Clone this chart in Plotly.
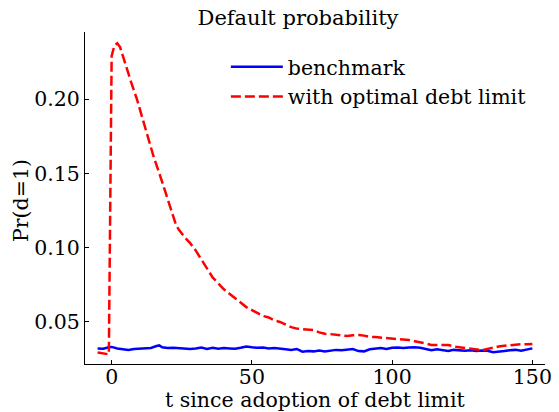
import plotly.graph_objects as go

# --- data ---
t_bench = [-5, -3, -1, 0, 2, 4, 6, 8, 10, 12, 14, 16, 17, 18, 20, 22, 24, 26, 28, 30, 32, 34, 36, 38, 40,
           42, 44, 46, 48, 50, 52, 54, 56, 58, 60, 62, 64, 66, 68, 70, 72, 74, 76, 78, 80, 82, 84, 86,
           88, 90, 92, 94, 96, 98, 100, 102, 104, 106, 108, 110, 112, 114, 116, 118, 120, 122, 124,
           126, 128, 130, 132, 134, 136, 138, 140, 142, 144, 146, 148, 150]
benchmark = [0.0322, 0.0320, 0.0330, 0.0332, 0.0322, 0.0315, 0.0312, 0.0318, 0.0320, 0.0322, 0.0325, 0.0338,
             0.0342, 0.0330, 0.0325, 0.0326, 0.0322, 0.0320, 0.0318, 0.0322, 0.0328, 0.0318, 0.0326, 0.0320,
             0.0324, 0.0322, 0.0320, 0.0326, 0.0335, 0.0330, 0.0326, 0.0328, 0.0322, 0.0325, 0.0318, 0.0316,
             0.0312, 0.0318, 0.0300, 0.0305, 0.0302, 0.0308, 0.0302, 0.0306, 0.0312, 0.0310, 0.0314, 0.0318,
             0.0304, 0.0302, 0.0316, 0.0322, 0.0324, 0.0318, 0.0326, 0.0328, 0.0324, 0.0328, 0.0330, 0.0326,
             0.0318, 0.0310, 0.0316, 0.0312, 0.0304, 0.0312, 0.0310, 0.0306, 0.0310, 0.0304, 0.0308, 0.0306,
             0.0296, 0.0298, 0.0304, 0.0310, 0.0312, 0.0306, 0.0316, 0.0322]

t_limit = [-5, -4, -3, -2, -1, 0, 1, 2, 3, 4, 5, 7, 9, 11, 13, 15, 17, 19, 21, 22, 23, 24, 26, 28, 30, 32,
           34, 36, 38, 40, 42, 44, 46, 48, 50, 52, 54, 56, 58, 60, 62, 64, 66, 68, 70, 72, 74, 76, 78, 80,
           82, 84, 86, 88, 90, 92, 94, 96, 98, 100, 102, 104, 106, 108, 110, 112, 114, 116, 118, 120, 122,
           124, 126, 128, 130, 132, 134, 136, 138, 140, 142, 144, 146, 148, 150]
optimal_limit = [0.0295, 0.0290, 0.0288, 0.0285, 0.0282, 0.2290, 0.2360, 0.2375, 0.2350, 0.2290, 0.2220,
                 0.2110, 0.2000, 0.1870, 0.1740, 0.1610, 0.1500, 0.1380, 0.1270, 0.1210, 0.1150, 0.1120,
                 0.1070, 0.1030, 0.0980, 0.0920, 0.0860, 0.0800, 0.0760, 0.0720, 0.0690, 0.0660, 0.0630,
                 0.0600, 0.0580, 0.0560, 0.0540, 0.0530, 0.0510, 0.0500, 0.0480, 0.0465, 0.0455, 0.0450,
                 0.0448, 0.0445, 0.0430, 0.0420, 0.0418, 0.0415, 0.0410, 0.0405, 0.0410, 0.0412, 0.0408,
                 0.0400, 0.0398, 0.0395, 0.0390, 0.0388, 0.0385, 0.0380, 0.0378, 0.0370, 0.0365, 0.0355,
                 0.0345, 0.0345, 0.0350, 0.0345, 0.0335, 0.0330, 0.0325, 0.0318, 0.0312, 0.0310, 0.0318,
                 0.0328, 0.0335, 0.0340, 0.0345, 0.0350, 0.0350, 0.0350, 0.0352]

x_ticks = [0, 50, 100, 150]
y_ticks = [0.05, 0.10, 0.15, 0.20]

FONT = "DejaVu Serif"
FS = 20.5

fig = go.Figure()
fig.add_trace(go.Scatter(x=t_bench, y=benchmark, mode="lines", name="benchmark",
                         line=dict(color="#0000ff", width=2.5)))
fig.add_trace(go.Scatter(x=t_limit, y=optimal_limit, mode="lines", name="with optimal debt limit",
                         line=dict(color="#ff0000", width=2.5, dash="10px,4px")))

W, H = 559, 412
L, R, T, B = 85, 7, 32, 48
PW, PH = W - L - R, H - T - B

fig.update_layout(
    width=W, height=H,
    margin=dict(l=L, r=R, t=T, b=B),
    paper_bgcolor="white", plot_bgcolor="white",
    font=dict(family=FONT, size=FS, color="black"),
    title=dict(text="Default probability", x=298 / W, xref="container", xanchor="center",
               y=1 - 18 / H, yref="container", yanchor="middle",
               font=dict(family=FONT, size=21, color="black")),
    legend=dict(x=(228 - L) / PW, xanchor="left", y=1 - (47 - T) / PH, yanchor="top",
                bgcolor="rgba(0,0,0,0)", font=dict(family=FONT, size=FS, color="black"),
                itemwidth=52, tracegroupgap=0),
    showlegend=True,
    annotations=[
        dict(text="t since adoption of debt limit", xref="paper", yref="paper",
             x=0.5, xanchor="center", y=-(400 - (H - B)) / PH, yanchor="middle",
             showarrow=False, font=dict(family=FONT, size=FS, color="black")),
        dict(text="Pr(d=1)", xref="paper", yref="paper", textangle=-90,
             x=-(L - 20) / PW, xanchor="center", y=(H - B - 200) / PH, yanchor="middle",
             showarrow=False, font=dict(family=FONT, size=FS, color="black")),
    ],
)
fig.update_xaxes(range=[-9.5, 154.5], tickvals=x_ticks, ticktext=[str(v) for v in x_ticks],
                 showline=True, linecolor="black", linewidth=1.2, mirror=False,
                 showgrid=False, zeroline=False, ticks="inside", ticklen=4, tickwidth=1,
                 tickcolor="black", tickfont=dict(family=FONT, size=FS), ticklabelstandoff=-6)
fig.update_yaxes(range=[0.0217, 0.2451], tickvals=y_ticks, ticktext=["%.2f" % v for v in y_ticks],
                 showline=True, linecolor="black", linewidth=1.2, mirror=False,
                 showgrid=False, zeroline=False, ticks="inside", ticklen=4, tickwidth=1,
                 tickcolor="black", tickfont=dict(family=FONT, size=FS))

fig.write_html("out.html")
